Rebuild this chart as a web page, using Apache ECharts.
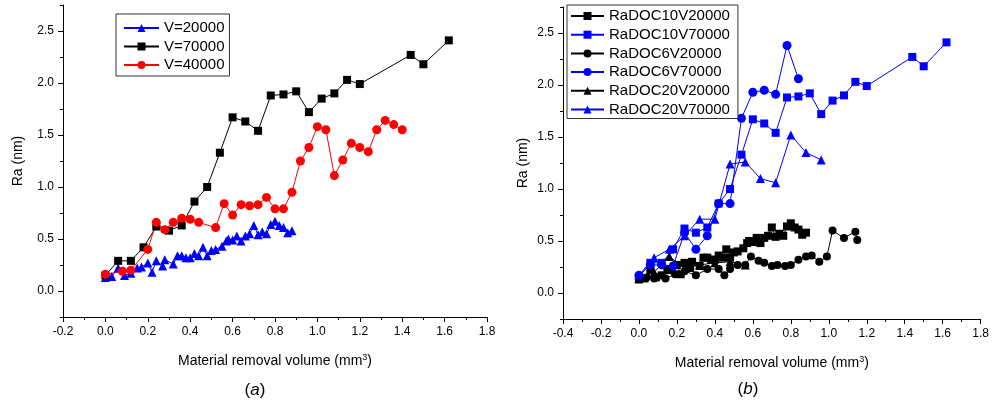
<!DOCTYPE html>
<html><head><meta charset="utf-8">
<script src="https://cdn.jsdelivr.net/npm/echarts@6/dist/echarts.min.js"></script>
<style>html,body{margin:0;padding:0;background:#fff}#c{width:992px;height:408px}</style>
</head><body><div id="c"></div>
<script>
// ---- data (a) ----
var v20_x = [0.00,0.03,0.06,0.09,0.12,0.15,0.17,0.20,0.22,0.24,0.27,0.28,0.32,0.34,0.36,0.38,0.40,0.42,0.44,0.46,0.48,0.50,0.52,0.55,0.57,0.58,0.60,0.62,0.64,0.66,0.68,0.70,0.72,0.74,0.76,0.78,0.80,0.82,0.84,0.86,0.88];
var v20_y = [0.13,0.14,0.22,0.15,0.17,0.22,0.23,0.27,0.18,0.29,0.24,0.30,0.26,0.34,0.34,0.32,0.32,0.36,0.34,0.42,0.34,0.39,0.40,0.43,0.48,0.50,0.49,0.53,0.48,0.53,0.55,0.63,0.54,0.57,0.55,0.64,0.67,0.63,0.61,0.56,0.58];
var v70_x = [0.00,0.06,0.12,0.18,0.24,0.30,0.36,0.42,0.48,0.54,0.60,0.66,0.72,0.78,0.84,0.90,0.96,1.02,1.08,1.14,1.20,1.44,1.50,1.62];
var v70_y = [0.15,0.29,0.29,0.42,0.62,0.58,0.63,0.86,1.00,1.33,1.67,1.63,1.54,1.88,1.89,1.92,1.72,1.85,1.90,2.03,1.99,2.27,2.18,2.41];
var v40_x = [0.00,0.08,0.12,0.20,0.24,0.28,0.32,0.36,0.40,0.44,0.52,0.56,0.60,0.64,0.68,0.72,0.76,0.80,0.84,0.88,0.92,0.96,1.00,1.04,1.08,1.12,1.16,1.20,1.24,1.28,1.32,1.36,1.40];
var v40_y = [0.16,0.19,0.20,0.40,0.66,0.59,0.66,0.70,0.69,0.66,0.61,0.84,0.73,0.83,0.82,0.83,0.90,0.79,0.79,0.95,1.25,1.38,1.58,1.55,1.11,1.26,1.42,1.38,1.34,1.55,1.64,1.60,1.55];
// ---- data (b) ----
var doc10v20_x = v20_x, doc10v20_y = v20_y;
var doc10v70_x = v70_x, doc10v70_y = v70_y;
var doc6v20_x = [0.00,0.04,0.08,0.14,0.19,0.24,0.30,0.36,0.42,0.45,0.48,0.52,0.56,0.59,0.63,0.66,0.70,0.73,0.77,0.80,0.84,0.88,0.91,0.95,0.99,1.02,1.08,1.14,1.15];
var doc6v20_y = [0.15,0.15,0.14,0.14,0.18,0.21,0.17,0.23,0.23,0.17,0.23,0.27,0.27,0.35,0.31,0.29,0.26,0.27,0.26,0.27,0.32,0.35,0.36,0.30,0.35,0.60,0.53,0.59,0.51];
var doc6v70_x = [0.00,0.06,0.12,0.18,0.24,0.30,0.36,0.42,0.48,0.54,0.60,0.66,0.72,0.78,0.84];
var doc6v70_y = [0.17,0.27,0.27,0.26,0.58,0.42,0.55,0.86,0.86,1.68,1.93,1.95,1.91,2.38,2.06];
var doc20v20_x = [0.00,0.08,0.16,0.24,0.32,0.40,0.48,0.56];
var doc20v20_y = [0.14,0.20,0.35,0.24,0.27,0.29,0.30,0.27];
var doc20v70_x = [0.00,0.08,0.16,0.24,0.32,0.40,0.48,0.56,0.64,0.72,0.80,0.88,0.96];
var doc20v70_y = [0.17,0.34,0.42,0.55,0.71,0.71,1.24,1.26,1.10,1.06,1.52,1.35,1.28];
var yMajor = [0,0.5,1.0,1.5,2.0,2.5];

function zip(xs, ys){ return xs.map(function(x,i){ return [x, ys[i]]; }); }
var FONT = 'Liberation Sans, Arial, sans-serif';

function xAx(gi, min){
  return {type:'value', gridIndex:gi, min:min, max:1.8, interval:0.2,
    axisLine:{onZero:false, lineStyle:{color:'#000', width:1}},
    axisTick:{show:true, inside:false, length:5, lineStyle:{color:'#000'}},
    minorTick:{show:true, splitNumber:2, length:3, lineStyle:{color:'#000'}},
    splitLine:{show:false},
    axisLabel:{color:'#000', fontSize:12, fontFamily:FONT, margin:9,
      formatter:function(v){ return v.toFixed(1); }},
    name:'Material removal volume (mm{sup|3})', nameLocation:'middle', nameGap:36,
    nameTextStyle:{color:'#000', fontSize:14, fontFamily:FONT, lineHeight:16,
      rich:{sup:{fontSize:9, fontFamily:FONT, verticalAlign:'top', lineHeight:16}}}
  };
}
function yAx(gi, gap){
  return {type:'value', gridIndex:gi, min:-0.25, max:2.75,
    axisLine:{onZero:false, lineStyle:{color:'#000', width:1}},
    axisTick:{show:true, inside:false, length:5, customValues:yMajor, lineStyle:{color:'#000'}},
    splitLine:{show:false},
    axisLabel:{color:'#000', fontSize:12, fontFamily:FONT, margin:9, customValues:yMajor,
      formatter:function(v){ return v.toFixed(1); }},
    name:'Ra (nm)', nameLocation:'middle', nameGap:gap,
    nameTextStyle:{color:'#000', fontSize:14, fontFamily:FONT}
  };
}
function yMinor(gi){
  return {type:'value', gridIndex:gi, min:-0.25, max:2.75, interval:0.25, position:'left', offset:0,
    axisLine:{show:false, onZero:false}, axisTick:{show:true, length:3, lineStyle:{color:'#000'}},
    axisLabel:{show:false}, splitLine:{show:false}};
}
function ser(name, xi, yi, xs, ys, color, symbol, size){
  return {type:'line', name:name, xAxisIndex:xi, yAxisIndex:yi, data:zip(xs,ys),
    symbol:symbol, symbolSize:size, showSymbol:true,
    lineStyle:{color:color, width:1}, itemStyle:{color:color},
    emphasis:{disabled:true}};
}

var chart = echarts.init(document.getElementById('c'), null, {renderer:'canvas'});
chart.setOption({
  animation:false,
  backgroundColor:'#fff',
  grid:[
    {left:63, top:5, width:424, height:312},
    {left:563, top:7, width:422, height:312}
  ],
  xAxis:[xAx(0,-0.2), xAx(1,-0.4)],
  yAxis:[yAx(0,38), yAx(1,33), yMinor(0), yMinor(1)],
  legend:[
    {orient:'vertical', left:116, top:14, padding:[5,5,2,7], itemWidth:35, itemHeight:10, itemGap:0.5,
     borderColor:'#333', borderWidth:1, backgroundColor:'#fff',
     textStyle:{fontSize:15, fontFamily:FONT, color:'#000', lineHeight:18},
     data:['V=20000','V=70000','V=40000']},
    {orient:'vertical', left:567, top:5, padding:[2,8,0,3], itemWidth:33, itemHeight:10, itemGap:0.7,
     borderColor:'#333', borderWidth:1, backgroundColor:'#fff',
     textStyle:{fontSize:15, fontFamily:FONT, color:'#000', lineHeight:18},
     data:['RaDOC10V20000','RaDOC10V70000','RaDOC6V20000','RaDOC6V70000','RaDOC20V20000','RaDOC20V70000']}
  ],
  graphic:[
    {type:'text', x:255, y:390, style:{text:'({i|a})', fontSize:17, fontFamily:FONT, fill:'#000',
      align:'center', verticalAlign:'middle', rich:{i:{fontStyle:'italic', fontSize:17, fontFamily:FONT}}}},
    {type:'text', x:748, y:389, style:{text:'({i|b})', fontSize:17, fontFamily:FONT, fill:'#000',
      align:'center', verticalAlign:'middle', rich:{i:{fontStyle:'italic', fontSize:17, fontFamily:FONT}}}}
  ],
  series:[
    ser('V=20000',0,0,v20_x,v20_y,'#0000ff','triangle',9),
    ser('V=70000',0,0,v70_x,v70_y,'#000000','rect',8),
    ser('V=40000',0,0,v40_x,v40_y,'#ff0000','circle',9),
    ser('RaDOC10V20000',1,1,doc10v20_x,doc10v20_y,'#000000','rect',8),
    ser('RaDOC10V70000',1,1,doc10v70_x,doc10v70_y,'#0000ff','rect',8),
    ser('RaDOC6V20000',1,1,doc6v20_x,doc6v20_y,'#000000','circle',8),
    ser('RaDOC6V70000',1,1,doc6v70_x,doc6v70_y,'#0000ff','circle',9),
    ser('RaDOC20V20000',1,1,doc20v20_x,doc20v20_y,'#000000','triangle',9),
    ser('RaDOC20V70000',1,1,doc20v70_x,doc20v70_y,'#0000ff','triangle',9)
  ]
});
</script></body></html>
